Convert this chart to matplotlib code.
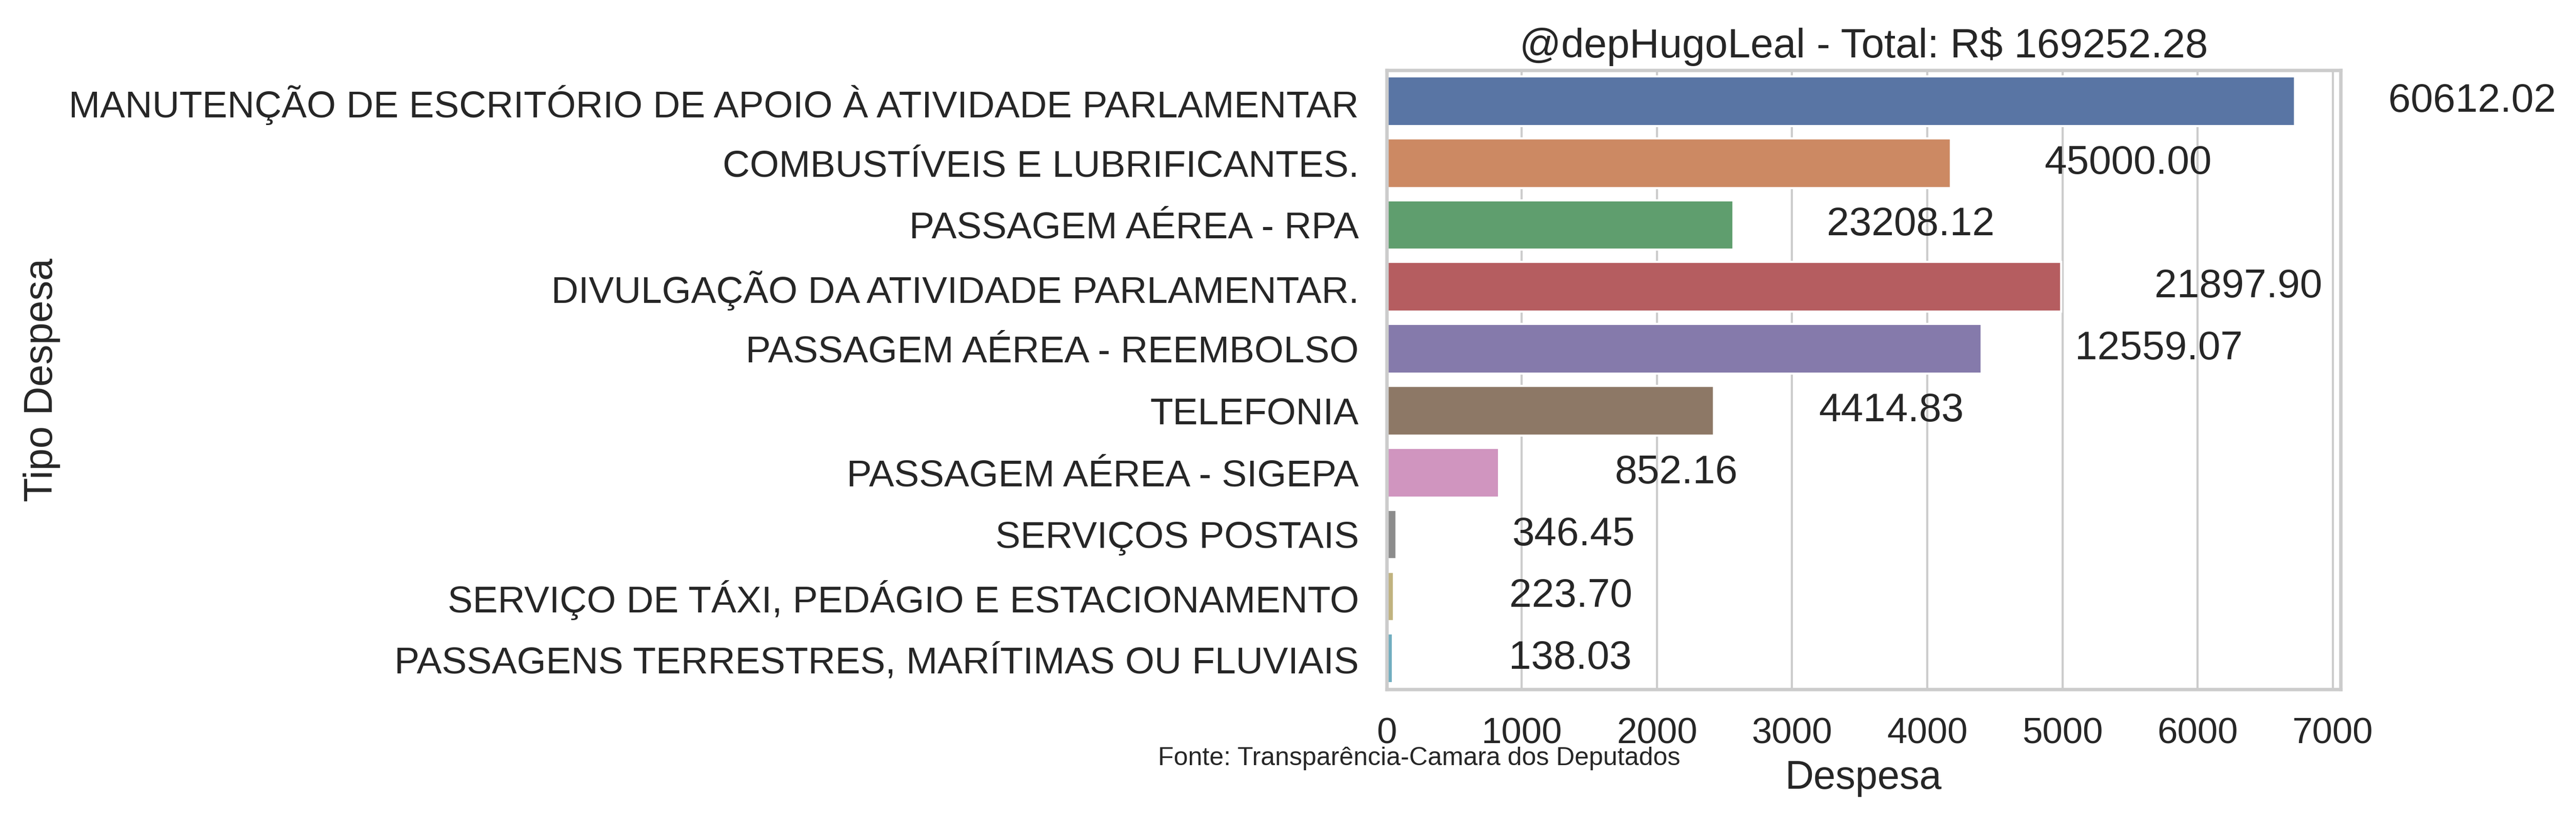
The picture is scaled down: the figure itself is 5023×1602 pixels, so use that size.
import matplotlib
matplotlib.use('Agg')
import matplotlib.pyplot as plt
import seaborn as sns

categorias = [
    'MANUTENÇÃO DE ESCRITÓRIO DE APOIO À ATIVIDADE PARLAMENTAR',
    'COMBUSTÍVEIS E LUBRIFICANTES.',
    'PASSAGEM AÉREA - RPA',
    'DIVULGAÇÃO DA ATIVIDADE PARLAMENTAR.',
    'PASSAGEM AÉREA - REEMBOLSO',
    'TELEFONIA',
    'PASSAGEM AÉREA - SIGEPA',
    'SERVIÇOS POSTAIS',
    'SERVIÇO DE TÁXI, PEDÁGIO E ESTACIONAMENTO',
    'PASSAGENS TERRESTRES, MARÍTIMAS OU FLUVIAIS',
]
# comprimento das barras
despesa = [6722, 4175, 2567, 4990, 4403, 2422, 832, 71, 52, 47]
# totais escritos ao lado das barras
totais = [60612.02, 45000.00, 23208.12, 21897.90, 12559.07,
          4414.83, 852.16, 346.45, 223.70, 138.03]
total_geral = 169252.28

sns.set_theme(style='whitegrid', font_scale=1.5)
plt.rcParams['font.family'] = ['Liberation Sans', 'DejaVu Sans']

fig = plt.figure(figsize=(5023 / 300, 1602 / 300), dpi=300)
ax = fig.add_axes([0.5383, 0.1604, 0.9086 - 0.5383, 0.9145 - 0.1604])

cores = [sns.desaturate(c, 0.75) for c in sns.color_palette('deep', len(categorias))]
pos = list(range(len(categorias)))
barras = ax.barh(pos, despesa, height=0.8, color=cores, edgecolor='w', linewidth=1)
ax.set_ylim(len(categorias) - 0.5, -0.5)
ax.set_yticks(pos)
ax.set_yticklabels(categorias)
ax.grid(axis='y', visible=False)
ax.tick_params(axis='x', labelsize=17, length=0, pad=13)
ax.tick_params(axis='y', labelsize=17.6, length=0, pad=13)
for s in ax.spines.values():
    s.set_color('0.8')
    s.set_linewidth(1.6)

for b, t in zip(barras, totais):
    ax.text(b.get_width() + 1310, b.get_y() + b.get_height() / 2, '%.2f' % t,
            ha='center', va='center', fontsize=18.8, color='0.15')

ax.set_title('@depHugoLeal - Total: R$ %.2f' % total_geral, fontsize=19.2)
ax.set_xlabel('Despesa', fontsize=18.6)
ax.set_ylabel('Tipo Despesa', fontsize=18.6)
fig.text(2258 / 5023, 1 - 1493 / 1602, 'Fonte: Transparência-Camara dos Deputados',
         fontsize=12, ha='left', va='baseline', color='0.15')

fig.savefig('out.png', dpi=300)
